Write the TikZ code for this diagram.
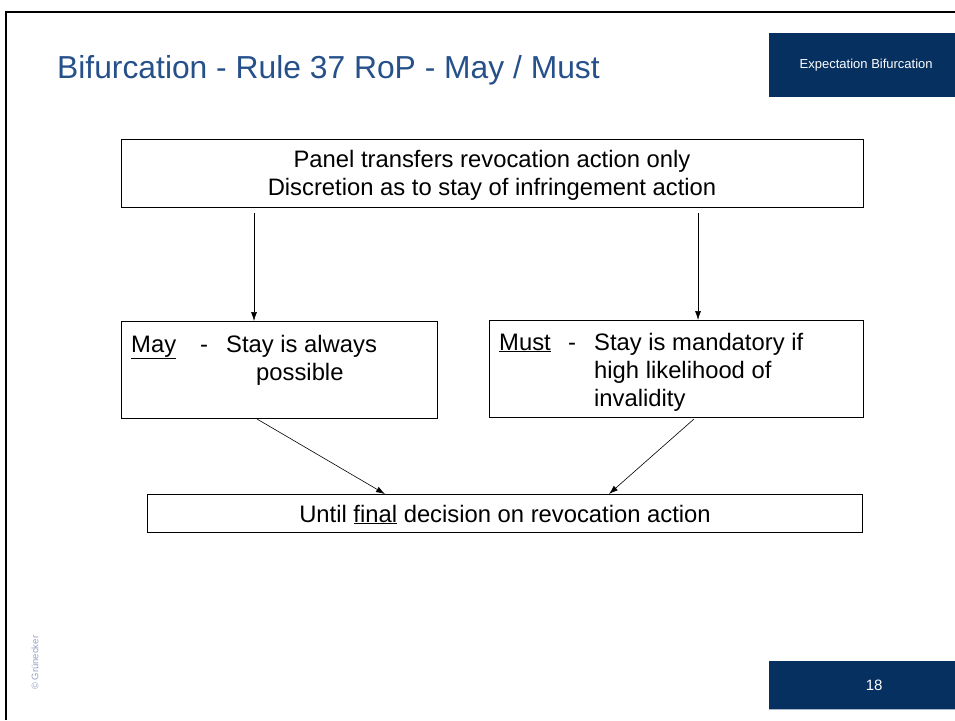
\documentclass[tikz,border=0pt]{standalone}
\usepackage{fontspec}
\setmainfont{Liberation Sans}
\usetikzlibrary{arrows.meta}
\definecolor{titleblue}{RGB}{38,80,138}
\definecolor{boxblue}{RGB}{6,48,96}
\definecolor{copygray}{RGB}{150,160,195}
\tikzset{
  x=1pt, y=-1pt,
  flowbox/.style={draw=black, line width=0.8pt, anchor=north west, inner sep=0pt},
  bodytext/.style={font=\fontsize{23.8}{28}\selectfont, inner sep=0pt},
  conn/.style={line width=0.6pt, -{Latex[length=9pt,width=6pt]}},
}
\begin{document}
\begin{tikzpicture}
\useasboundingbox (0,0) rectangle (955,720);
% frame
\draw[line width=2.5pt] (6,720) -- (6,12) -- (955,12);
% title
\node[anchor=base west, inner sep=0pt, text=titleblue, font=\fontsize{31.8}{38}\selectfont] (title) at (57,78) {Bifurcation - Rule 37 RoP - May / Must};
% top-right tag
\node[fill=boxblue, anchor=north west, minimum width=186pt, minimum height=64pt, inner sep=0pt, text=white, font=\fontsize{13}{15}\selectfont] (tag) at (769,33) {\hspace*{8pt}Expectation Bifurcation};
% page number
\node[fill=boxblue, anchor=north west, minimum width=186pt, minimum height=48pt, inner sep=0pt, text=white, font=\fontsize{15}{18}\selectfont] (page) at (769,661) {\hspace*{24pt}18};
\draw[copygray!80!white, line width=1pt] (page.south west) -- (page.south east);
% copyright
\node[rotate=90, anchor=west, inner sep=0pt, text=copygray, font=\fontsize{9.5}{11}\selectfont] (copy) at (35,690) {© Grünecker};
% boxes
\node[flowbox, minimum width=742pt, minimum height=68pt] (top) at (121,139) {};
\node[flowbox, minimum width=316pt, minimum height=97pt] (may) at (121,321) {};
\node[flowbox, minimum width=374pt, minimum height=97pt] (must) at (489,320) {};
\node[flowbox, minimum width=715pt, minimum height=38pt] (final) at (147,494) {};
% texts
\node[bodytext, align=center, anchor=north] (toptxt) at (492,150) {Panel transfers revocation action only\\Discretion as to stay of infringement action};
\node[bodytext, anchor=base west] (maylbl) at (131,352) {\underline{May}};
\node[bodytext, anchor=base west] (maydash) at (200,352) {-};
\node[bodytext, anchor=base west] (maytxt) at (226,352) {Stay is always};
\node[bodytext, anchor=base west] (maytxt2) at (256,380) {possible};
\node[bodytext, anchor=base west] (mustlbl) at (499,350) {\underline{Must}};
\node[bodytext, anchor=base west] (mustdash) at (568,350) {-};
\node[bodytext, anchor=north west, align=left] (musttxt) at (594,333) {Stay is mandatory if\\high likelihood of\\invalidity};
\node[bodytext, anchor=base] (finaltxt) at (505,522) {Until \underline{final} decision on revocation action};
% connectors
\coordinate (a1) at (254,213);
\coordinate (a2) at (698,213);
\coordinate (b1) at (257,419);
\coordinate (b2) at (694,419);
\draw[conn] (a1) -- (may.north -| a1);
\draw[conn] (a2) -- (must.north -| a2);
\draw[conn] (b1) -- (385,494);
\draw[conn] (b2) -- (609,494);
\end{tikzpicture}
\end{document}
